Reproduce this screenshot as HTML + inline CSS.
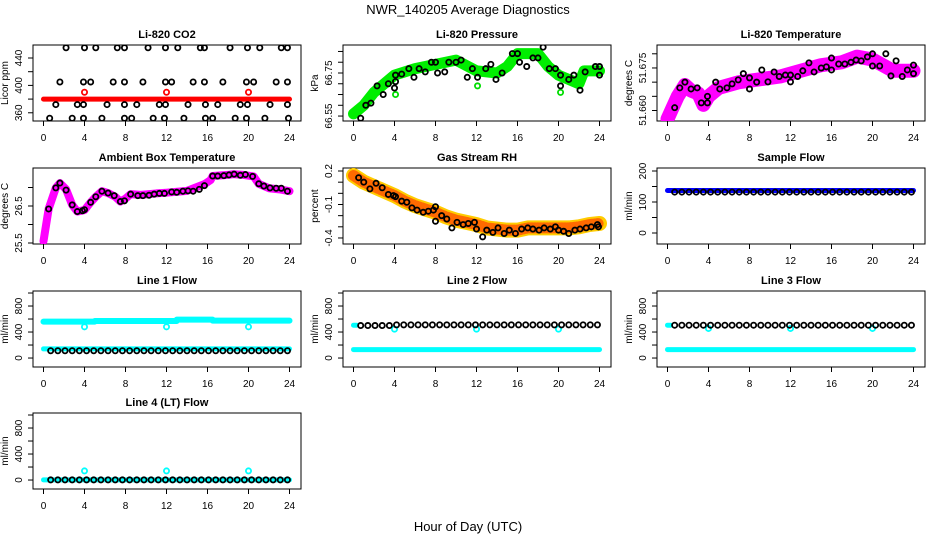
<!DOCTYPE html>
<html><head><meta charset="utf-8"><style>
body{margin:0;background:#fff;}
svg{display:block;font-family:"Liberation Sans",sans-serif;}
</style></head><body>
<svg id="chart" width="936" height="540" xmlns="http://www.w3.org/2000/svg">
<text x="468" y="14" text-anchor="middle" font-size="13">NWR_140205  Average Diagnostics</text>
<text x="468" y="531" text-anchor="middle" font-size="13">Hour of Day (UTC)</text>
</svg>
<script>
// ---------- data ----------
const xTicks=[0,4,8,12,16,20,24];
// CO2
const co2BandH=[0,24];
const co2BandV=[380,380];
const co2OutH=[4,12,20];
const co2OutV=[390,390,390];
const co2BlkH=[2.2,4,5.1,7.2,7.9,10.2,11.9,13.1,15.3,15.7,18.2,19.9,21.1,23.2,23.8,
 1.6,3.9,4.6,6.8,7.9,9.7,11.9,12.5,14.6,15.7,17.5,19.8,20.5,22.7,23.8,
 1.2,3.3,3.9,6.2,7.9,9.1,11.3,11.9,14.1,15.8,17,19.2,19.9,22.1,23.8,
 0.6,2.8,3.9,5.7,7.9,8.6,10.7,11.8,13.7,15.8,16.5,18.7,19.8,21.6,23.9];
const co2BlkV=[455,455,455,455,455,455,455,455,455,455,455,455,455,455,455,
 405,405,405,405,405,405,405,405,405,405,405,405,405,405,405,
 372,372,372,372,372,372,372,372,372,372,372,372,372,372,372,
 352,352,352,352,352,352,352,352,352,352,352,352,352,352,352];
// Pressure
const prBandH=[0,1,2,3,4,6,8,10,12,14,15,16,18,19,20,21,22,22.5,24];
const prBandV=[66.56,66.6,66.66,66.7,66.74,66.77,66.79,66.81,66.76,66.75,66.78,66.84,66.84,66.78,66.74,66.72,66.7,66.76,66.76];
const prBlkH=[0.7,1.2,1.7,2.3,2.9,3.4,4.0,4.1,4.1,4.7,5.4,5.9,6.4,7,7.6,8,8.2,8.9,9.3,10,10.5,11.1,11.6,12.1,12.9,13.4,13.9,14.5,15.5,16,16.2,16.9,17.5,18,18.5,19.1,19.7,20.2,20.2,21,21.5,22.1,22.6,23.6,24,24];
const prBlkV=[66.54,66.6,66.61,66.69,66.65,66.7,66.68,66.71,66.74,66.745,66.77,66.73,66.77,66.755,66.8,66.8,66.75,66.755,66.8,66.8,66.81,66.73,66.77,66.73,66.77,66.79,66.72,66.75,66.84,66.84,66.8,66.78,66.82,66.82,66.87,66.77,66.77,66.74,66.69,66.72,66.74,66.67,66.755,66.78,66.78,66.74];
const prGrnH=[4.1,12.1,20.2];
const prGrnV=[66.65,66.69,66.66];
// Li-820 temperature
const tpBandH=[0,0.5,1,1.7,2.3,3,3.5,4,5,7,9,11,13,15,17,18.5,20,22,24];
const tpBandV=[51.657,51.661,51.665,51.669,51.667,51.666,51.662,51.665,51.668,51.670,51.671,51.672,51.674,51.676,51.677,51.679,51.678,51.674,51.674];
const tpBlkH=[0.7,1.2,1.7,2.3,2.9,3.3,3.9,3.9,4.7,5.1,5.8,6.3,6.9,7.4,8,8,8.7,9.2,9.8,10.4,10.9,11.5,12,12,12.7,13.2,13.8,14.3,15,15.5,16,16,16.7,17.3,17.9,18.4,18.9,19.5,20,20,20.7,21.3,21.8,22.3,22.9,23.4,24,24];
const tpBlkV=[51.661,51.668,51.670,51.6676,51.668,51.6627,51.665,51.6627,51.670,51.6676,51.668,51.6694,51.6708,51.673,51.6715,51.6676,51.670,51.6743,51.6701,51.6736,51.672,51.6725,51.6725,51.6701,51.672,51.674,51.6768,51.6736,51.675,51.6754,51.6743,51.6785,51.6764,51.6764,51.677,51.6778,51.6775,51.6789,51.680,51.6757,51.6757,51.680,51.6722,51.6775,51.672,51.6743,51.676,51.673];
// Ambient box temperature
const amBandH=[0,0.5,1.2,1.6,2.2,2.8,3.3,4,4.6,5.1,5.7,6.3,7,7.5,8,8.5,9.5,11,12,14,15.7,16.3,16.5,18,18.5,19.5,20.5,21,22,23,24];
const amBandV=[25.55,26.42,26.99,27.12,26.95,26.53,26.35,26.39,26.6,26.75,26.9,26.85,26.75,26.62,26.7,26.82,26.8,26.84,26.86,26.91,27.09,27.2,27.31,27.34,27.36,27.34,27.3,27.1,26.98,26.95,26.9];
const amBlkH=[0.5,1.2,1.6,2.2,2.8,3.3,3.8,4,4.6,5.1,5.7,6.3,6.9,7.5,7.9,8.5,9.2,9.7,10.3,10.8,11.3,11.8,12.5,13,13.6,14.1,14.6,15.2,15.7,16.5,17,17.6,18.1,18.6,19.2,19.7,20.4,21,21.5,22.1,22.7,23.2,23.8];
const amBlkV=[26.42,26.99,27.12,26.93,26.53,26.35,26.37,26.4,26.6,26.75,26.9,26.85,26.78,26.62,26.64,26.82,26.78,26.78,26.79,26.82,26.84,26.84,26.88,26.87,26.9,26.91,26.9,26.95,27.05,27.31,27.31,27.32,27.34,27.36,27.33,27.35,27.3,27.1,27.04,26.99,26.98,26.98,26.9];
// Gas stream RH
const rhBandH=[0,0.5,1,2,3,4,5,6,7,8,9,10,11,12,13,14,15,16,17,18,19,20,21,22,23,24];
const rhBandV=[0.16,0.13,0.1,0.06,0.02,-0.02,-0.07,-0.11,-0.14,-0.17,-0.21,-0.24,-0.26,-0.28,-0.31,-0.32,-0.33,-0.33,-0.31,-0.31,-0.31,-0.31,-0.31,-0.3,-0.28,-0.27];
const rhBlkH=[0.5,1,1.6,2.2,2.8,3.4,3.9,4.1,4.7,5.2,5.7,6.2,6.8,7.3,7.8,8,8,8.6,9.1,9.6,10.1,10.7,11.2,11.8,12,12.6,13,13.6,14.1,14.7,15.2,15.8,16.4,17,17.5,18.1,18.6,19.2,19.7,20,20.5,21,21.6,22.1,22.7,23.2,23.8,23.9];
const rhBlkV=[0.14,0.1,0.04,0.09,0.05,-0.01,-0.02,-0.03,-0.07,-0.08,-0.13,-0.15,-0.17,-0.16,-0.15,-0.12,-0.25,-0.2,-0.23,-0.31,-0.26,-0.28,-0.27,-0.26,-0.32,-0.39,-0.33,-0.35,-0.31,-0.36,-0.33,-0.36,-0.32,-0.31,-0.32,-0.33,-0.31,-0.32,-0.3,-0.33,-0.34,-0.36,-0.33,-0.32,-0.31,-0.3,-0.28,-0.3];
// Flow panels: shared sample times for black circles
const flowH=[0.7,1.4,2.1,2.8,3.5,4.2,4.9,5.6,6.3,7,7.7,8.4,9.1,9.8,10.5,11.2,11.9,12.6,13.3,14,14.7,15.4,16.1,16.8,17.5,18.2,18.9,19.6,20.3,21,21.7,22.4,23.1,23.8];
const sfBandH=[0,24];
const sfBandV=[137,137];
const sfBlkV=[132,132,132,132,132,132,132,132,132,132,132,132,132,132,132,132,132,132,132,132,132,132,132,132,132,132,132,132,132,132,132,132,132,132];
const l1UpH=[0,5,5,13,13,16.5,16.5,24];
const l1UpV=[560,560,570,570,590,590,575,575];
const l1LoH=[0,24];
const l1LoV=[140,140];
const l1OutH=[4,12,20];
const l1OutV=[480,480,480];
const l1BlkV=[112,112,112,112,112,112,112,112,112,112,112,112,112,112,112,112,112,112,112,112,112,112,112,112,112,112,112,112,112,112,112,112,112,112];
const l2LoH=[0,24];
const l2LoV=[130,130];
const l2StartH=[0,0.3];
const l2StartV=[505,505];
const l2OutH=[4,12,20];
const l2OutV=[445,445,445];
const l2BlkV=[500,500,500,500,500,510,510,510,510,510,510,510,510,510,510,510,510,510,510,510,510,510,510,510,510,510,510,510,510,510,510,510,510,510];
const l3LoV=[130,130];
const l3OutV=[455,455,455];
const l3BlkV=[505,505,505,505,505,505,505,505,505,505,505,505,505,505,505,505,505,505,505,505,505,505,505,505,505,505,505,505,505,505,505,505,505,505];
const l4BandH=[0,24];
const l4BandV=[2,2];
const l4OutH=[4,12,20];
const l4OutV=[140,140,140];
const l4BlkV=[2,2,2,2,2,2,2,2,2,2,2,2,2,2,2,2,2,2,2,2,2,2,2,2,2,2,2,2,2,2,2,2,2,2];

// ---------- drawing ----------
const NS="http://www.w3.org/2000/svg";
const svg=document.getElementById('chart');
const COLL=[33,343,657], ROWT=[45,168,291,413], W=268, H=76;
function mk(tag,attrs,parent){const e=document.createElementNS(NS,tag);for(const k in attrs)e.setAttribute(k,attrs[k]);(parent||svg).appendChild(e);return e;}
function panel(name,col,row,ymin,ymax,yt,ylabs,ytitle,title){
  const L=COLL[col],T=ROWT[row];
  const g=mk('g',{});
  
  
  const xs=h=>L+10.5+h*(246/24);
  const ys=v=>T+(ymax-v)/(ymax-ymin)*H;
  const box=mk('rect',{x:L,y:T,width:W,height:H,fill:'none',stroke:'#000','stroke-width':1},g);
  
  
  const tt=mk('text',{x:L+W/2,y:T-7,'text-anchor':'middle','font-size':11,'font-weight':'bold'},g);
  tt.textContent=title;
  
  
  xTicks.forEach(t=>{
    mk('line',{x1:xs(t),x2:xs(t),y1:T+H,y2:T+H+5,stroke:'#000'},g);
    const lb=mk('text',{x:xs(t),y:T+H+20,'text-anchor':'middle','font-size':10},g);
    lb.textContent=t;
    
    
  });
  yt.forEach(t=>{mk('line',{x1:L-5,x2:L,y1:ys(t),y2:ys(t),stroke:'#000'},g);});
  ylabs.forEach(t=>{
    const y=ys(t[0]);
    const lb=mk('text',{x:L-11,y:y,'text-anchor':'middle','font-size':10,transform:`rotate(-90 ${L-11} ${y})`},g);
    lb.textContent=t[1];
    
    
  });
  const yc=T+H/2;
  const yl=mk('text',{x:L-25,y:yc,'text-anchor':'middle','font-size':10,transform:`rotate(-90 ${L-25} ${yc})`},g);
  yl.textContent=ytitle;
  
  
  const clip=mk('clipPath',{id:'c'+name},g);
  mk('rect',{x:L,y:T,width:W,height:H},clip);
  const pg=mk('g',{'clip-path':`url(#c${name})`},g);
  return {
    band(hs,vs,color,w,dash){
      const p=mk('polyline',{points:hs.map((h,i)=>xs(h)+','+ys(vs[i])).join(' '),fill:'none',stroke:color,'stroke-width':w,'stroke-linejoin':'round','stroke-linecap':'round'},pg);
      if(dash)p.setAttribute('stroke-dasharray',dash);
      
      
    },
    pts(hs,vs,color,r,sw){
      hs.forEach((h,i)=>{
        const c=mk('circle',{cx:xs(h),cy:ys(vs[i]),r:r||2.6,fill:'none',stroke:color,'stroke-width':sw||1.8},pg);
        
        
      });
    }
  };
}
// CO2
let p=panel('co2',0,0,348,459,[360,380,400,420,440],[[360,'360'],[400,'400'],[440,'440']],'Licor ppm','Li-820 CO2');
p.band(co2BandH,co2BandV,'#ff0000',5);
p.pts(co2OutH,co2OutV,'#ff0000');
p.pts(co2BlkH,co2BlkV,'#000');
// Pressure
p=panel('pressure',1,0,66.527,66.880,[66.55,66.6,66.65,66.7,66.75,66.8,66.85],[[66.55,'66.55'],[66.75,'66.75']],'kPa','Li-820 Pressure');
p.band(prBandH,prBandV,'#00ee00',11);
p.pts(prGrnH,prGrnV,'#00dd00');
p.pts(prBlkH,prBlkV,'#000');
// Temperature
p=panel('li820-temp',2,0,51.6563,51.6831,[51.660,51.665,51.670,51.675,51.680],[[51.660,'51.660'],[51.675,'51.675']],'degrees C','Li-820 Temperature');
p.band(tpBandH,tpBandV,'#ff00ff',14);
p.pts(tpBlkH,tpBlkV,'#000');
// Ambient
p=panel('ambient',0,1,25.473,27.527,[25.5,26,26.5,27],[[25.5,'25.5'],[26.5,'26.5']],'degrees C','Ambient Box Temperature');
p.band(amBandH,amBandV,'#ff00ff',8);
p.pts(amBlkH,amBlkV,'#000');
// RH
p=panel('rh',1,1,-0.454,0.227,[0.2,0.1,0,-0.1,-0.2,-0.3,-0.4],[[0.2,'0.2'],[-0.1,'-0.1'],[-0.4,'-0.4']],'percent','Gas Stream RH');
p.band(rhBandH,rhBandV,'#ffcc00',15);
p.band(rhBandH,rhBandV,'#ff6a00',11,'1 2');
p.pts(rhBlkH,rhBlkV,'#000');
// Sample flow
p=panel('sample-flow',2,1,-35.5,209.7,[0,50,100,150,200],[[0,'0'],[100,'100'],[200,'200']],'ml/min','Sample Flow');
p.band(sfBandH,sfBandV,'#0000ff',5);
p.pts(flowH,sfBlkV,'#000');
const fT=[0,200,400,600,800,1000], fL=[[0,'0'],[400,'400'],[800,'800']];
// Line 1
p=panel('line1',0,2,-138,1031,fT,fL,'ml/min','Line 1 Flow');
p.band(l1UpH,l1UpV,'#00ffff',6);
p.band(l1LoH,l1LoV,'#00ffff',5);
p.pts(l1OutH,l1OutV,'#00ffff');
p.pts(flowH,l1BlkV,'#000');
// Line 2
p=panel('line2',1,2,-138,1031,fT,fL,'ml/min','Line 2 Flow');
p.band(l2LoH,l2LoV,'#00ffff',5);
p.band(l2StartH,l2StartV,'#00ffff',5);
p.pts(l2OutH,l2OutV,'#00ffff');
p.pts(flowH,l2BlkV,'#000');
// Line 3
p=panel('line3',2,2,-138,1031,fT,fL,'ml/min','Line 3 Flow');
p.band(l2LoH,l3LoV,'#00ffff',5);
p.band(l2StartH,l2StartV,'#00ffff',5);
p.pts(l2OutH,l3OutV,'#00ffff');
p.pts(flowH,l3BlkV,'#000');
// Line 4
p=panel('line4',0,3,-138,1031,fT,fL,'ml/min','Line 4 (LT) Flow');
p.band(l4BandH,l4BandV,'#00ffff',5);
p.pts(l4OutH,l4OutV,'#00ffff');
p.pts(flowH,l4BlkV,'#000');
</script>
</body></html>
